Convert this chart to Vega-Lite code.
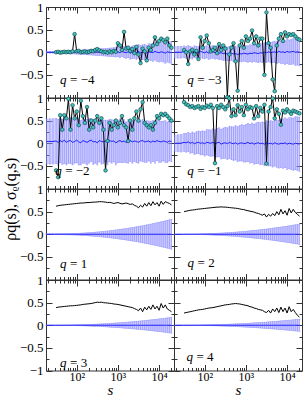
{
"$schema":"https://vega.github.io/schema/vega-lite/v6.json",
"padding":{"left":2,"top":0,"right":1,"bottom":0},
"title":{"text":"ρq(s), σᵨ(q,s)","orient":"left","anchor":"middle","font":"Liberation Serif","fontSize":16,"fontWeight":"normal","color":"black","offset":0},
"data":{"values":[
{"q":-4,"s":18.5,"m":0,"e":0.02},{"q":-4,"s":22.4,"m":0,"e":0.02},{"q":-4,"s":26.6,"m":0,"e":0.02},
{"q":-4,"s":31.6,"r":0,"m":0,"e":0.02},{"q":-4,"s":35.5,"r":0.01,"m":0,"e":0.022},{"q":-4,"s":39.8,"r":-0.01,"m":0,"e":0.024},{"q":-4,"s":44.7,"r":0,"m":0,"e":0.026},{"q":-4,"s":50.1,"r":0.01,"m":0,"e":0.028},{"q":-4,"s":56.2,"r":0,"m":0,"e":0.03},{"q":-4,"s":63.1,"r":0.01,"m":0,"e":0.032},{"q":-4,"s":70.8,"r":0,"m":0,"e":0.034},{"q":-4,"s":79.4,"r":0.02,"m":0,"e":0.037},{"q":-4,"s":89.1,"r":0.4,"m":0,"e":0.039},
{"q":-4,"s":100,"r":0.02,"m":0,"e":0.042},{"q":-4,"s":112,"r":0.03,"m":0,"e":0.044},{"q":-4,"s":126,"r":0,"m":0,"e":0.047},{"q":-4,"s":141,"r":0.01,"m":0,"e":0.05},{"q":-4,"s":158,"r":0.02,"m":0,"e":0.053},{"q":-4,"s":178,"r":0,"m":0,"e":0.055},{"q":-4,"s":200,"r":0.01,"m":0,"e":0.059},{"q":-4,"s":224,"r":0.03,"m":0,"e":0.061},{"q":-4,"s":251,"r":0.02,"m":0,"e":0.064},{"q":-4,"s":282,"r":0.05,"m":0,"e":0.068},
{"q":-4,"s":316,"r":0.07,"m":0,"e":0.071},{"q":-4,"s":355,"r":0.04,"m":0,"e":0.074},{"q":-4,"s":398,"r":0.02,"m":0,"e":0.078},{"q":-4,"s":447,"r":0,"m":0,"e":0.081},{"q":-4,"s":501,"r":0.01,"m":0,"e":0.085},{"q":-4,"s":562,"r":-0.01,"m":0,"e":0.089},{"q":-4,"s":631,"r":0.02,"m":0,"e":0.092},{"q":-4,"s":708,"r":0,"m":0,"e":0.096},{"q":-4,"s":794,"r":0.03,"m":0,"e":0.1},{"q":-4,"s":891,"r":0.01,"m":0,"e":0.104},
{"q":-4,"s":1000,"r":0.2,"m":0.01,"e":0.108},{"q":-4,"s":1122,"r":0.15,"m":-0.01,"e":0.112},{"q":-4,"s":1259,"r":0.05,"m":0.02,"e":0.116},{"q":-4,"s":1413,"r":0.45,"m":0,"e":0.121},{"q":-4,"s":1585,"r":0.08,"m":-0.01,"e":0.125},{"q":-4,"s":1778,"r":0.1,"m":0.01,"e":0.13},{"q":-4,"s":1995,"r":0.03,"m":-0.02,"e":0.134},{"q":-4,"s":2239,"r":0.07,"m":0,"e":0.139},{"q":-4,"s":2512,"r":-0.02,"m":0.01,"e":0.143},{"q":-4,"s":2818,"r":0.12,"m":-0.01,"e":0.148},
{"q":-4,"s":3162,"r":-0.05,"m":0.02,"e":0.153},{"q":-4,"s":3548,"r":-0.24,"m":-0.01,"e":0.158},{"q":-4,"s":3981,"r":0.08,"m":0,"e":0.163},{"q":-4,"s":4467,"r":0.02,"m":0.01,"e":0.168},{"q":-4,"s":5012,"r":-0.18,"m":-0.02,"e":0.173},{"q":-4,"s":5623,"r":0.1,"m":0.01,"e":0.178},{"q":-4,"s":6310,"r":0.05,"m":0,"e":0.183},{"q":-4,"s":7079,"r":0.15,"m":-0.01,"e":0.189},{"q":-4,"s":7943,"r":0.33,"m":0.02,"e":0.194},{"q":-4,"s":8913,"r":0.18,"m":0,"e":0.2},
{"q":-4,"s":10000,"r":0.25,"m":-0.01,"e":0.205},{"q":-4,"s":11220,"r":0.3,"m":0.01,"e":0.211},{"q":-4,"s":12589,"r":0.27,"m":0,"e":0.216},{"q":-4,"s":14125,"r":0.22,"m":-0.02,"e":0.222},{"q":-4,"s":15849,"r":0.3,"m":0.01,"e":0.228},{"q":-4,"s":17783,"r":0.15,"m":0,"e":0.234},{"q":-4,"s":19953,"r":0.1,"m":-0.01,"e":0.24},

{"q":-3,"s":18.5,"m":0,"e":0.13},{"q":-3,"s":22.4,"m":0,"e":0.13},{"q":-3,"s":26.6,"m":0,"e":0.13},
{"q":-3,"s":31.6,"r":0.05,"m":0.01,"e":0.13},{"q":-3,"s":35.5,"r":0,"m":-0.01,"e":0.13},{"q":-3,"s":39.8,"r":-0.26,"m":0.02,"e":0.13},{"q":-3,"s":44.7,"r":0.02,"m":0,"e":0.13},{"q":-3,"s":50.1,"r":0.05,"m":-0.02,"e":0.131},{"q":-3,"s":56.2,"r":-0.05,"m":0.01,"e":0.131},{"q":-3,"s":63.1,"r":0.03,"m":0,"e":0.132},{"q":-3,"s":70.8,"r":-0.15,"m":-0.01,"e":0.133},{"q":-3,"s":79.4,"r":0.33,"m":0.02,"e":0.133},{"q":-3,"s":89.1,"r":0.1,"m":0,"e":0.134},
{"q":-3,"s":100,"r":0.25,"m":-0.01,"e":0.135},{"q":-3,"s":112,"r":0.37,"m":0.01,"e":0.137},{"q":-3,"s":126,"r":0.2,"m":-0.02,"e":0.138},{"q":-3,"s":141,"r":0.02,"m":0,"e":0.139},{"q":-3,"s":158,"r":0.05,"m":0.01,"e":0.141},{"q":-3,"s":178,"r":0.1,"m":-0.01,"e":0.142},{"q":-3,"s":200,"r":-0.02,"m":0,"e":0.144},{"q":-3,"s":224,"r":0.18,"m":-0.02,"e":0.146},{"q":-3,"s":251,"r":0.05,"m":-0.01,"e":0.148},{"q":-3,"s":282,"r":0.15,"m":-0.03,"e":0.15},
{"q":-3,"s":316,"r":0.08,"m":-0.02,"e":0.152},{"q":-3,"s":355,"r":-0.99,"m":-0.04,"e":0.154},{"q":-3,"s":398,"r":-0.05,"m":-0.03,"e":0.156},{"q":-3,"s":447,"r":0.1,"m":-0.02,"e":0.159},{"q":-3,"s":501,"r":0.2,"m":-0.04,"e":0.161},{"q":-3,"s":562,"r":-0.2,"m":-0.03,"e":0.164},{"q":-3,"s":631,"r":-0.85,"m":-0.05,"e":0.167},{"q":-3,"s":708,"r":0.15,"m":-0.03,"e":0.17},{"q":-3,"s":794,"r":0.25,"m":-0.04,"e":0.173},{"q":-3,"s":891,"r":0.1,"m":-0.02,"e":0.176},
{"q":-3,"s":1000,"r":0.35,"m":-0.03,"e":0.179},{"q":-3,"s":1122,"r":0.25,"m":-0.04,"e":0.182},{"q":-3,"s":1259,"r":0.3,"m":-0.02,"e":0.186},{"q":-3,"s":1413,"r":0.48,"m":-0.03,"e":0.189},{"q":-3,"s":1585,"r":0.2,"m":-0.01,"e":0.193},{"q":-3,"s":1778,"r":0.35,"m":-0.02,"e":0.196},{"q":-3,"s":1995,"r":0.15,"m":-0.03,"e":0.2},{"q":-3,"s":2239,"r":0.3,"m":-0.01,"e":0.204},{"q":-3,"s":2512,"r":0.3,"m":-0.02,"e":0.208},{"q":-3,"s":2818,"r":-0.5,"m":0,"e":0.212},
{"q":-3,"s":3162,"r":0.88,"m":-0.01,"e":0.217},{"q":-3,"s":3548,"r":0.2,"m":0.01,"e":0.221},{"q":-3,"s":3981,"r":0.1,"m":-0.01,"e":0.226},{"q":-3,"s":4467,"r":-0.6,"m":0,"e":0.23},{"q":-3,"s":5012,"r":-0.86,"m":0.01,"e":0.235},{"q":-3,"s":5623,"r":0.15,"m":-0.01,"e":0.24},{"q":-3,"s":6310,"r":0.3,"m":0.02,"e":0.245},{"q":-3,"s":7079,"r":0.4,"m":0,"e":0.25},{"q":-3,"s":7943,"r":0.25,"m":0.01,"e":0.255},{"q":-3,"s":8913,"r":0.44,"m":-0.01,"e":0.26},
{"q":-3,"s":10000,"r":0.35,"m":0.02,"e":0.266},{"q":-3,"s":11220,"r":0.4,"m":0,"e":0.271},{"q":-3,"s":12589,"r":0.38,"m":0.01,"e":0.277},{"q":-3,"s":14125,"r":0.4,"m":0.02,"e":0.282},{"q":-3,"s":15849,"r":0.35,"m":0,"e":0.288},{"q":-3,"s":17783,"r":0.3,"m":0.01,"e":0.294},{"q":-3,"s":19953,"r":0.28,"m":0,"e":0.3},

{"q":-2,"s":18.5,"m":0.04,"e":0.5},{"q":-2,"s":22.4,"m":0.04,"e":0.5},{"q":-2,"s":26.6,"m":0.04,"e":0.5},
{"q":-2,"s":31.6,"r":-0.6,"m":0.05,"e":0.5},{"q":-2,"s":35.5,"r":-0.75,"m":0.02,"e":0.51},{"q":-2,"s":39.8,"r":0.62,"m":0.06,"e":0.49},{"q":-2,"s":44.7,"r":0.3,"m":0.03,"e":0.5},{"q":-2,"s":50.1,"r":0.62,"m":0.07,"e":0.52},{"q":-2,"s":56.2,"r":0.55,"m":0.02,"e":0.5},{"q":-2,"s":63.1,"r":0.98,"m":0.05,"e":0.49},{"q":-2,"s":70.8,"r":0.3,"m":0.06,"e":0.51},{"q":-2,"s":79.4,"r":0.84,"m":0.02,"e":0.5},{"q":-2,"s":89.1,"r":0.55,"m":0.04,"e":0.48},
{"q":-2,"s":100,"r":0.7,"m":0.07,"e":0.5},{"q":-2,"s":112,"r":0.4,"m":0.03,"e":0.51},{"q":-2,"s":126,"r":0.94,"m":0.01,"e":0.49},{"q":-2,"s":141,"r":0.6,"m":0.06,"e":0.5},{"q":-2,"s":158,"r":0.45,"m":0.04,"e":0.48},{"q":-2,"s":178,"r":0.8,"m":0.02,"e":0.5},{"q":-2,"s":200,"r":0.3,"m":0.05,"e":0.49},{"q":-2,"s":224,"r":0.5,"m":0.07,"e":0.47},{"q":-2,"s":251,"r":0.35,"m":0.03,"e":0.5},{"q":-2,"s":282,"r":0.5,"m":0.04,"e":0.48},
{"q":-2,"s":316,"r":0.6,"m":0.01,"e":0.49},{"q":-2,"s":355,"r":0.45,"m":0.06,"e":0.47},{"q":-2,"s":398,"r":0.55,"m":0.04,"e":0.5},{"q":-2,"s":447,"r":0.3,"m":0.03,"e":0.48},{"q":-2,"s":501,"r":-0.6,"m":0.05,"e":0.46},{"q":-2,"s":562,"r":0.05,"m":0.02,"e":0.49},{"q":-2,"s":631,"r":0.45,"m":0.06,"e":0.47},{"q":-2,"s":708,"r":0.3,"m":0.04,"e":0.48},{"q":-2,"s":794,"r":0.4,"m":0.05,"e":0.46},{"q":-2,"s":891,"r":0.5,"m":0.01,"e":0.49},
{"q":-2,"s":1000,"r":0.35,"m":0.04,"e":0.47},{"q":-2,"s":1122,"r":0.45,"m":0.06,"e":0.48},{"q":-2,"s":1259,"r":0.6,"m":0.03,"e":0.46},{"q":-2,"s":1413,"r":0.4,"m":0.05,"e":0.47},{"q":-2,"s":1585,"r":0.35,"m":0.02,"e":0.45},{"q":-2,"s":1778,"r":0.05,"m":0.04,"e":0.48},{"q":-2,"s":1995,"r":0.5,"m":0.06,"e":0.46},{"q":-2,"s":2239,"r":0.3,"m":0.03,"e":0.47},{"q":-2,"s":2512,"r":0.55,"m":0.05,"e":0.45},{"q":-2,"s":2818,"r":0.7,"m":0.04,"e":0.47},
{"q":-2,"s":3162,"r":0.5,"m":0.02,"e":0.46},{"q":-2,"s":3548,"r":0.75,"m":0.05,"e":0.44},{"q":-2,"s":3981,"r":0.91,"m":0.06,"e":0.47},{"q":-2,"s":4467,"r":0.45,"m":0.03,"e":0.45},{"q":-2,"s":5012,"r":0.4,"m":0.04,"e":0.46},{"q":-2,"s":5623,"r":0.35,"m":0.05,"e":0.44},{"q":-2,"s":6310,"r":0.4,"m":0.02,"e":0.46},{"q":-2,"s":7079,"r":0.3,"m":0.05,"e":0.45},{"q":-2,"s":7943,"r":0.45,"m":0.03,"e":0.47},{"q":-2,"s":8913,"r":0.6,"m":0.06,"e":0.44},
{"q":-2,"s":10000,"r":0.55,"m":0.04,"e":0.46},{"q":-2,"s":11220,"r":0.65,"m":0.03,"e":0.45},{"q":-2,"s":12589,"r":0.62,"m":0.05,"e":0.44},{"q":-2,"s":14125,"r":0.65,"m":0.04,"e":0.46},{"q":-2,"s":15849,"r":0.6,"m":0.02,"e":0.45},{"q":-2,"s":17783,"r":0.55,"m":0.05,"e":0.44},{"q":-2,"s":19953,"r":0.5,"m":0.04,"e":0.45},

{"q":-1,"s":18.5,"m":0,"e":0.18},{"q":-1,"s":22.4,"m":0,"e":0.19},{"q":-1,"s":26.6,"m":0,"e":0.195},
{"q":-1,"s":31.6,"r":0.91,"m":0.02,"e":0.2},{"q":-1,"s":35.5,"r":0.86,"m":0.01,"e":0.207},{"q":-1,"s":39.8,"r":0.84,"m":0.03,"e":0.214},{"q":-1,"s":44.7,"r":0.8,"m":0,"e":0.221},{"q":-1,"s":50.1,"r":0.82,"m":0.02,"e":0.229},{"q":-1,"s":56.2,"r":0.78,"m":-0.01,"e":0.236},{"q":-1,"s":63.1,"r":0.8,"m":0.01,"e":0.243},{"q":-1,"s":70.8,"r":0.82,"m":0.02,"e":0.25},{"q":-1,"s":79.4,"r":0.76,"m":0,"e":0.257},{"q":-1,"s":89.1,"r":0.8,"m":0.01,"e":0.264},
{"q":-1,"s":100,"r":0.78,"m":-0.01,"e":0.271},{"q":-1,"s":112,"r":0.83,"m":0.02,"e":0.279},{"q":-1,"s":126,"r":0.8,"m":0.01,"e":0.286},{"q":-1,"s":141,"r":0.85,"m":0,"e":0.293},{"q":-1,"s":158,"r":0.78,"m":0.02,"e":0.3},{"q":-1,"s":178,"r":-0.44,"m":-0.01,"e":0.307},{"q":-1,"s":200,"r":0.82,"m":0.01,"e":0.314},{"q":-1,"s":224,"r":0.78,"m":0.02,"e":0.321},{"q":-1,"s":251,"r":0.85,"m":-0.02,"e":0.329},{"q":-1,"s":282,"r":0.8,"m":0,"e":0.336},
{"q":-1,"s":316,"r":0.75,"m":0.01,"e":0.343},{"q":-1,"s":355,"r":0.82,"m":-0.01,"e":0.35},{"q":-1,"s":398,"r":0.99,"m":0.02,"e":0.357},{"q":-1,"s":447,"r":0.6,"m":0,"e":0.364},{"q":-1,"s":501,"r":0.75,"m":-0.01,"e":0.371},{"q":-1,"s":562,"r":0.62,"m":0.01,"e":0.379},{"q":-1,"s":631,"r":0.84,"m":-0.02,"e":0.386},{"q":-1,"s":708,"r":0.7,"m":0,"e":0.393},{"q":-1,"s":794,"r":0.8,"m":0.01,"e":0.4},{"q":-1,"s":891,"r":0.62,"m":-0.01,"e":0.407},
{"q":-1,"s":1000,"r":0.85,"m":0,"e":0.414},{"q":-1,"s":1122,"r":0.75,"m":0.02,"e":0.421},{"q":-1,"s":1259,"r":0.8,"m":-0.01,"e":0.429},{"q":-1,"s":1413,"r":0.78,"m":0.01,"e":0.436},{"q":-1,"s":1585,"r":0.55,"m":-0.02,"e":0.443},{"q":-1,"s":1778,"r":0.82,"m":0,"e":0.45},{"q":-1,"s":1995,"r":0.6,"m":0.01,"e":0.457},{"q":-1,"s":2239,"r":0.78,"m":-0.01,"e":0.464},{"q":-1,"s":2512,"r":0.7,"m":0,"e":0.471},{"q":-1,"s":2818,"r":0.85,"m":-0.02,"e":0.479},
{"q":-1,"s":3162,"r":-0.45,"m":0.01,"e":0.486},{"q":-1,"s":3548,"r":0.7,"m":-0.01,"e":0.493},{"q":-1,"s":3981,"r":0.8,"m":0,"e":0.5},{"q":-1,"s":4467,"r":0.99,"m":-0.02,"e":0.507},{"q":-1,"s":5012,"r":0.55,"m":0.01,"e":0.514},{"q":-1,"s":5623,"r":0.75,"m":-0.01,"e":0.521},{"q":-1,"s":6310,"r":0.65,"m":-0.02,"e":0.529},{"q":-1,"s":7079,"r":0.41,"m":0,"e":0.536},{"q":-1,"s":7943,"r":0.72,"m":-0.01,"e":0.543},{"q":-1,"s":8913,"r":0.68,"m":0.01,"e":0.55},
{"q":-1,"s":10000,"r":0.75,"m":-0.02,"e":0.557},{"q":-1,"s":11220,"r":0.7,"m":0,"e":0.564},{"q":-1,"s":12589,"r":0.65,"m":-0.01,"e":0.571},{"q":-1,"s":14125,"r":0.72,"m":-0.02,"e":0.579},{"q":-1,"s":15849,"r":0.7,"m":0,"e":0.586},{"q":-1,"s":17783,"r":0.68,"m":-0.01,"e":0.593},{"q":-1,"s":19953,"r":0.66,"m":-0.02,"e":0.6},

{"q":1,"s":18.5,"m":0,"e":0.01},{"q":1,"s":22.4,"m":0,"e":0.01},{"q":1,"s":26.6,"m":0,"e":0.01},
{"q":1,"s":31.6,"r":0.62,"m":0,"e":0.01},{"q":1,"s":35.5,"r":0.63,"m":0,"e":0.01},{"q":1,"s":39.8,"r":0.64,"m":0,"e":0.01},{"q":1,"s":44.7,"r":0.645,"m":0,"e":0.011},{"q":1,"s":50.1,"r":0.65,"m":0,"e":0.012},{"q":1,"s":56.2,"r":0.655,"m":0,"e":0.013},{"q":1,"s":63.1,"r":0.66,"m":0,"e":0.014},{"q":1,"s":70.8,"r":0.665,"m":0,"e":0.015},{"q":1,"s":79.4,"r":0.67,"m":0,"e":0.017},{"q":1,"s":89.1,"r":0.675,"m":0,"e":0.018},
{"q":1,"s":100,"r":0.68,"m":0,"e":0.02},{"q":1,"s":112,"r":0.685,"m":0,"e":0.022},{"q":1,"s":126,"r":0.69,"m":0,"e":0.025},{"q":1,"s":141,"r":0.69,"m":0,"e":0.027},{"q":1,"s":158,"r":0.695,"m":0,"e":0.03},{"q":1,"s":178,"r":0.7,"m":0,"e":0.033},{"q":1,"s":200,"r":0.7,"m":0,"e":0.036},{"q":1,"s":224,"r":0.705,"m":0,"e":0.04},{"q":1,"s":251,"r":0.71,"m":0,"e":0.043},{"q":1,"s":282,"r":0.71,"m":0,"e":0.047},
{"q":1,"s":316,"r":0.715,"m":0,"e":0.051},{"q":1,"s":355,"r":0.72,"m":0,"e":0.055},{"q":1,"s":398,"r":0.72,"m":0,"e":0.059},{"q":1,"s":447,"r":0.715,"m":0,"e":0.064},{"q":1,"s":501,"r":0.71,"m":0,"e":0.069},{"q":1,"s":562,"r":0.7,"m":0,"e":0.074},{"q":1,"s":631,"r":0.705,"m":0,"e":0.079},{"q":1,"s":708,"r":0.695,"m":0,"e":0.084},{"q":1,"s":794,"r":0.68,"m":0,"e":0.09},{"q":1,"s":891,"r":0.69,"m":0,"e":0.096},
{"q":1,"s":1000,"r":0.7,"m":0,"e":0.102},{"q":1,"s":1122,"r":0.685,"m":0,"e":0.108},{"q":1,"s":1259,"r":0.67,"m":0,"e":0.114},{"q":1,"s":1413,"r":0.68,"m":0,"e":0.121},{"q":1,"s":1585,"r":0.69,"m":0,"e":0.128},{"q":1,"s":1778,"r":0.675,"m":0,"e":0.135},{"q":1,"s":1995,"r":0.66,"m":0,"e":0.142},{"q":1,"s":2239,"r":0.67,"m":0,"e":0.15},{"q":1,"s":2512,"r":0.64,"m":0,"e":0.157},{"q":1,"s":2818,"r":0.62,"m":0,"e":0.165},
{"q":1,"s":3162,"r":0.585,"m":0,"e":0.173},{"q":1,"s":3548,"r":0.64,"m":0,"e":0.182},{"q":1,"s":3981,"r":0.6,"m":0,"e":0.19},{"q":1,"s":4467,"r":0.68,"m":0,"e":0.199},{"q":1,"s":5012,"r":0.62,"m":0,"e":0.208},{"q":1,"s":5623,"r":0.7,"m":0,"e":0.217},{"q":1,"s":6310,"r":0.63,"m":0,"e":0.226},{"q":1,"s":7079,"r":0.72,"m":0,"e":0.235},{"q":1,"s":7943,"r":0.65,"m":0,"e":0.245},{"q":1,"s":8913,"r":0.7,"m":0,"e":0.255},
{"q":1,"s":10000,"r":0.62,"m":0,"e":0.265},{"q":1,"s":11220,"r":0.73,"m":0,"e":0.275},{"q":1,"s":12589,"r":0.66,"m":0,"e":0.286},{"q":1,"s":14125,"r":0.72,"m":0,"e":0.297},{"q":1,"s":15849,"r":0.7,"m":0,"e":0.308},{"q":1,"s":17783,"r":0.68,"m":0,"e":0.319},{"q":1,"s":19953,"r":0.65,"m":0,"e":0.33},

{"q":2,"s":18.5,"m":0,"e":0.005},{"q":2,"s":22.4,"m":0,"e":0.005},{"q":2,"s":26.6,"m":0,"e":0.005},
{"q":2,"s":31.6,"r":0.5,"m":0,"e":0.005},{"q":2,"s":35.5,"r":0.51,"m":0,"e":0.005},{"q":2,"s":39.8,"r":0.52,"m":0,"e":0.005},{"q":2,"s":44.7,"r":0.53,"m":0,"e":0.006},{"q":2,"s":50.1,"r":0.535,"m":0,"e":0.006},{"q":2,"s":56.2,"r":0.54,"m":0,"e":0.007},{"q":2,"s":63.1,"r":0.55,"m":0,"e":0.008},{"q":2,"s":70.8,"r":0.555,"m":0,"e":0.008},{"q":2,"s":79.4,"r":0.56,"m":0,"e":0.009},{"q":2,"s":89.1,"r":0.565,"m":0,"e":0.011},
{"q":2,"s":100,"r":0.57,"m":0,"e":0.012},{"q":2,"s":112,"r":0.575,"m":0,"e":0.013},{"q":2,"s":126,"r":0.58,"m":0,"e":0.015},{"q":2,"s":141,"r":0.585,"m":0,"e":0.017},{"q":2,"s":158,"r":0.59,"m":0,"e":0.019},{"q":2,"s":178,"r":0.595,"m":0,"e":0.021},{"q":2,"s":200,"r":0.6,"m":0,"e":0.023},{"q":2,"s":224,"r":0.6,"m":0,"e":0.025},{"q":2,"s":251,"r":0.605,"m":0,"e":0.028},{"q":2,"s":282,"r":0.6,"m":0,"e":0.03},
{"q":2,"s":316,"r":0.6,"m":0,"e":0.033},{"q":2,"s":355,"r":0.595,"m":0,"e":0.036},{"q":2,"s":398,"r":0.59,"m":0,"e":0.039},{"q":2,"s":447,"r":0.585,"m":0,"e":0.042},{"q":2,"s":501,"r":0.58,"m":0,"e":0.045},{"q":2,"s":562,"r":0.575,"m":0,"e":0.049},{"q":2,"s":631,"r":0.57,"m":0,"e":0.052},{"q":2,"s":708,"r":0.56,"m":0,"e":0.056},{"q":2,"s":794,"r":0.55,"m":0,"e":0.06},{"q":2,"s":891,"r":0.545,"m":0,"e":0.064},
{"q":2,"s":1000,"r":0.53,"m":0,"e":0.068},{"q":2,"s":1122,"r":0.52,"m":0,"e":0.072},{"q":2,"s":1259,"r":0.51,"m":0,"e":0.077},{"q":2,"s":1413,"r":0.5,"m":0,"e":0.081},{"q":2,"s":1585,"r":0.49,"m":0,"e":0.086},{"q":2,"s":1778,"r":0.47,"m":0,"e":0.091},{"q":2,"s":1995,"r":0.46,"m":0,"e":0.096},{"q":2,"s":2239,"r":0.44,"m":0,"e":0.101},{"q":2,"s":2512,"r":0.42,"m":0,"e":0.106},{"q":2,"s":2818,"r":0.45,"m":0,"e":0.112},
{"q":2,"s":3162,"r":0.38,"m":0,"e":0.117},{"q":2,"s":3548,"r":0.44,"m":0,"e":0.123},{"q":2,"s":3981,"r":0.4,"m":0,"e":0.129},{"q":2,"s":4467,"r":0.46,"m":0,"e":0.135},{"q":2,"s":5012,"r":0.41,"m":0,"e":0.141},{"q":2,"s":5623,"r":0.5,"m":0,"e":0.147},{"q":2,"s":6310,"r":0.43,"m":0,"e":0.153},{"q":2,"s":7079,"r":0.55,"m":0,"e":0.16},{"q":2,"s":7943,"r":0.45,"m":0,"e":0.167},{"q":2,"s":8913,"r":0.52,"m":0,"e":0.173},
{"q":2,"s":10000,"r":0.42,"m":0,"e":0.18},{"q":2,"s":11220,"r":0.57,"m":0,"e":0.187},{"q":2,"s":12589,"r":0.47,"m":0,"e":0.195},{"q":2,"s":14125,"r":0.55,"m":0,"e":0.202},{"q":2,"s":15849,"r":0.48,"m":0,"e":0.21},{"q":2,"s":17783,"r":0.44,"m":0,"e":0.217},{"q":2,"s":19953,"r":0.4,"m":0,"e":0.225},

{"q":3,"s":18.5,"m":0,"e":0.005},{"q":3,"s":22.4,"m":0,"e":0.005},{"q":3,"s":26.6,"m":0,"e":0.005},
{"q":3,"s":31.6,"r":0.39,"m":0,"e":0.005},{"q":3,"s":35.5,"r":0.4,"m":0,"e":0.005},{"q":3,"s":39.8,"r":0.405,"m":0,"e":0.005},{"q":3,"s":44.7,"r":0.41,"m":0,"e":0.005},{"q":3,"s":50.1,"r":0.415,"m":0,"e":0.006},{"q":3,"s":56.2,"r":0.42,"m":0,"e":0.006},{"q":3,"s":63.1,"r":0.425,"m":0,"e":0.007},{"q":3,"s":70.8,"r":0.43,"m":0,"e":0.008},{"q":3,"s":79.4,"r":0.43,"m":0,"e":0.008},{"q":3,"s":89.1,"r":0.435,"m":0,"e":0.009},
{"q":3,"s":100,"r":0.44,"m":0,"e":0.01},{"q":3,"s":112,"r":0.445,"m":0,"e":0.012},{"q":3,"s":126,"r":0.45,"m":0,"e":0.013},{"q":3,"s":141,"r":0.46,"m":0,"e":0.014},{"q":3,"s":158,"r":0.465,"m":0,"e":0.016},{"q":3,"s":178,"r":0.47,"m":0,"e":0.017},{"q":3,"s":200,"r":0.475,"m":0,"e":0.019},{"q":3,"s":224,"r":0.48,"m":0,"e":0.021},{"q":3,"s":251,"r":0.49,"m":0,"e":0.023},{"q":3,"s":282,"r":0.5,"m":0,"e":0.025},
{"q":3,"s":316,"r":0.51,"m":0,"e":0.027},{"q":3,"s":355,"r":0.505,"m":0,"e":0.029},{"q":3,"s":398,"r":0.51,"m":0,"e":0.031},{"q":3,"s":447,"r":0.5,"m":0,"e":0.034},{"q":3,"s":501,"r":0.495,"m":0,"e":0.036},{"q":3,"s":562,"r":0.49,"m":0,"e":0.039},{"q":3,"s":631,"r":0.485,"m":0,"e":0.042},{"q":3,"s":708,"r":0.48,"m":0,"e":0.045},{"q":3,"s":794,"r":0.47,"m":0,"e":0.048},{"q":3,"s":891,"r":0.465,"m":0,"e":0.051},
{"q":3,"s":1000,"r":0.46,"m":0,"e":0.054},{"q":3,"s":1122,"r":0.45,"m":0,"e":0.057},{"q":3,"s":1259,"r":0.44,"m":0,"e":0.061},{"q":3,"s":1413,"r":0.43,"m":0,"e":0.064},{"q":3,"s":1585,"r":0.42,"m":0,"e":0.068},{"q":3,"s":1778,"r":0.41,"m":0,"e":0.071},{"q":3,"s":1995,"r":0.4,"m":0,"e":0.075},{"q":3,"s":2239,"r":0.39,"m":0,"e":0.079},{"q":3,"s":2512,"r":0.37,"m":0,"e":0.083},{"q":3,"s":2818,"r":0.35,"m":0,"e":0.087},
{"q":3,"s":3162,"r":0.32,"m":0,"e":0.092},{"q":3,"s":3548,"r":0.38,"m":0,"e":0.096},{"q":3,"s":3981,"r":0.3,"m":0,"e":0.101},{"q":3,"s":4467,"r":0.4,"m":0,"e":0.105},{"q":3,"s":5012,"r":0.34,"m":0,"e":0.11},{"q":3,"s":5623,"r":0.42,"m":0,"e":0.115},{"q":3,"s":6310,"r":0.35,"m":0,"e":0.12},{"q":3,"s":7079,"r":0.45,"m":0,"e":0.125},{"q":3,"s":7943,"r":0.36,"m":0,"e":0.13},{"q":3,"s":8913,"r":0.42,"m":0,"e":0.135},
{"q":3,"s":10000,"r":0.33,"m":0,"e":0.141},{"q":3,"s":11220,"r":0.48,"m":0,"e":0.146},{"q":3,"s":12589,"r":0.38,"m":0,"e":0.152},{"q":3,"s":14125,"r":0.45,"m":0,"e":0.157},{"q":3,"s":15849,"r":0.36,"m":0,"e":0.163},{"q":3,"s":17783,"r":0.33,"m":0,"e":0.169},{"q":3,"s":19953,"r":0.3,"m":0,"e":0.175},

{"q":4,"s":18.5,"m":0,"e":0.005},{"q":4,"s":22.4,"m":0,"e":0.005},{"q":4,"s":26.6,"m":0,"e":0.005},
{"q":4,"s":31.6,"r":0.27,"m":0,"e":0.005},{"q":4,"s":35.5,"r":0.28,"m":0,"e":0.005},{"q":4,"s":39.8,"r":0.29,"m":0,"e":0.005},{"q":4,"s":44.7,"r":0.3,"m":0,"e":0.005},{"q":4,"s":50.1,"r":0.31,"m":0,"e":0.006},{"q":4,"s":56.2,"r":0.32,"m":0,"e":0.006},{"q":4,"s":63.1,"r":0.33,"m":0,"e":0.006},{"q":4,"s":70.8,"r":0.34,"m":0,"e":0.007},{"q":4,"s":79.4,"r":0.345,"m":0,"e":0.008},{"q":4,"s":89.1,"r":0.35,"m":0,"e":0.008},
{"q":4,"s":100,"r":0.36,"m":0,"e":0.009},{"q":4,"s":112,"r":0.37,"m":0,"e":0.01},{"q":4,"s":126,"r":0.38,"m":0,"e":0.011},{"q":4,"s":141,"r":0.385,"m":0,"e":0.012},{"q":4,"s":158,"r":0.39,"m":0,"e":0.013},{"q":4,"s":178,"r":0.4,"m":0,"e":0.014},{"q":4,"s":200,"r":0.41,"m":0,"e":0.016},{"q":4,"s":224,"r":0.42,"m":0,"e":0.017},{"q":4,"s":251,"r":0.43,"m":0,"e":0.018},{"q":4,"s":282,"r":0.44,"m":0,"e":0.02},
{"q":4,"s":316,"r":0.45,"m":0,"e":0.022},{"q":4,"s":355,"r":0.455,"m":0,"e":0.023},{"q":4,"s":398,"r":0.46,"m":0,"e":0.025},{"q":4,"s":447,"r":0.47,"m":0,"e":0.027},{"q":4,"s":501,"r":0.475,"m":0,"e":0.029},{"q":4,"s":562,"r":0.48,"m":0,"e":0.031},{"q":4,"s":631,"r":0.475,"m":0,"e":0.033},{"q":4,"s":708,"r":0.47,"m":0,"e":0.035},{"q":4,"s":794,"r":0.46,"m":0,"e":0.038},{"q":4,"s":891,"r":0.45,"m":0,"e":0.04},
{"q":4,"s":1000,"r":0.44,"m":0,"e":0.042},{"q":4,"s":1122,"r":0.43,"m":0,"e":0.045},{"q":4,"s":1259,"r":0.41,"m":0,"e":0.047},{"q":4,"s":1413,"r":0.4,"m":0,"e":0.05},{"q":4,"s":1585,"r":0.38,"m":0,"e":0.053},{"q":4,"s":1778,"r":0.37,"m":0,"e":0.056},{"q":4,"s":1995,"r":0.35,"m":0,"e":0.059},{"q":4,"s":2239,"r":0.34,"m":0,"e":0.062},{"q":4,"s":2512,"r":0.33,"m":0,"e":0.065},{"q":4,"s":2818,"r":0.3,"m":0,"e":0.068},
{"q":4,"s":3162,"r":0.28,"m":0,"e":0.071},{"q":4,"s":3548,"r":0.33,"m":0,"e":0.075},{"q":4,"s":3981,"r":0.27,"m":0,"e":0.078},{"q":4,"s":4467,"r":0.36,"m":0,"e":0.082},{"q":4,"s":5012,"r":0.3,"m":0,"e":0.085},{"q":4,"s":5623,"r":0.38,"m":0,"e":0.089},{"q":4,"s":6310,"r":0.28,"m":0,"e":0.093},{"q":4,"s":7079,"r":0.4,"m":0,"e":0.097},{"q":4,"s":7943,"r":0.3,"m":0,"e":0.101},{"q":4,"s":8913,"r":0.38,"m":0,"e":0.105},
{"q":4,"s":10000,"r":0.27,"m":0,"e":0.109},{"q":4,"s":11220,"r":0.41,"m":0,"e":0.113},{"q":4,"s":12589,"r":0.3,"m":0,"e":0.117},{"q":4,"s":14125,"r":0.35,"m":0,"e":0.121},{"q":4,"s":15849,"r":0.28,"m":0,"e":0.126},{"q":4,"s":17783,"r":0.22,"m":0,"e":0.13},{"q":4,"s":19953,"r":0.18,"m":0,"e":0.135}
]},
"columns":2,
"spacing":0,
"bounds":"flush",
"concat":[
{"width":128,"height":90.5,"transform":[{"filter":"datum.q==-4"}],"layer":[
{"mark":{"type":"errorband","color":"#9a9aff","opacity":0.45},"encoding":{"x":{"field":"s","type":"quantitative","scale":{"type":"log","domain":[18,23000],"nice":false},"axis":null},"y":{"field":"m","type":"quantitative","scale":{"domain":[-1,1],"nice":false},"axis":null},"yError":{"field":"e"}}},
{"mark":{"type":"errorbar","color":"#8080ff","thickness":0.6,"ticks":{"size":2}},"encoding":{"x":{"field":"s","type":"quantitative","axis":null},"y":{"field":"m","type":"quantitative","axis":null},"yError":{"field":"e"}}},
{"mark":{"type":"line","color":"#2020ff","strokeWidth":1},"encoding":{"x":{"field":"s","type":"quantitative","axis":{"orient":"top","values":[20,30,40,50,60,70,80,90,100,200,300,400,500,600,700,800,900,1000,2000,3000,4000,5000,6000,7000,8000,9000,10000,20000],"tickSize":{"condition":{"test":"datum.value==100||datum.value==1000||datum.value==10000","value":-6},"value":-3},"labels":false,"title":null}},"y":{"field":"m","type":"quantitative","axis":{"orient":"right","values":[-1,-0.75,-0.5,-0.25,0,0.25,0.5,0.75,1],"tickSize":{"condition":{"test":"abs(datum.value)==1||abs(datum.value)==0.5||datum.value==0","value":-6},"value":-3},"labels":false,"title":null}}}},
{"mark":{"type":"line","color":"black","strokeWidth":1},"encoding":{"x":{"field":"s","type":"quantitative","axis":{"orient":"bottom","values":[20,30,40,50,60,70,80,90,100,200,300,400,500,600,700,800,900,1000,2000,3000,4000,5000,6000,7000,8000,9000,10000,20000],"tickSize":{"condition":{"test":"datum.value==100||datum.value==1000||datum.value==10000","value":-6},"value":-3},"labels":false,"title":null}},"y":{"field":"r","type":"quantitative","axis":{"orient":"left","values":[-1,-0.75,-0.5,-0.25,0,0.25,0.5,0.75,1],"tickSize":{"condition":{"test":"abs(datum.value)==1||abs(datum.value)==0.5||datum.value==0","value":-6},"value":-3},"labelExpr":"datum.value==1?'1':datum.value==0.5?'0.5':datum.value==0?'0':datum.value==-0.5?'−0.5':''","labelOverlap":false,"labelPadding":9,"title":null}}}},
{"mark":{"type":"point","filled":true,"fill":"#3ec3c0","stroke":"#0d3b3b","strokeWidth":0.6,"size":13,"opacity":1},"encoding":{"x":{"field":"s","type":"quantitative","axis":null},"y":{"field":"r","type":"quantitative","axis":null}}},
{"data":{"values":[{"q":-4,"a":"q","b":"= −4"}]},"mark":{"type":"text","font":"Liberation Serif","fontSize":13,"fontStyle":"italic","align":"left","baseline":"alphabetic","color":"black"},"encoding":{"x":{"datum":39.6,"type":"quantitative","axis":null},"y":{"datum":-0.7,"type":"quantitative","axis":null},"text":{"field":"a"}}},
{"data":{"values":[{"q":-4,"a":"q","b":"= −4"}]},"mark":{"type":"text","font":"Liberation Serif","fontSize":13,"align":"left","baseline":"alphabetic","color":"black","dx":10},"encoding":{"x":{"datum":39.6,"type":"quantitative","axis":null},"y":{"datum":-0.7,"type":"quantitative","axis":null},"text":{"field":"b"}}}
]},
{"width":128,"height":90.5,"transform":[{"filter":"datum.q==-3"}],"layer":[
{"mark":{"type":"errorband","color":"#9a9aff","opacity":0.45},"encoding":{"x":{"field":"s","type":"quantitative","scale":{"type":"log","domain":[18,23000],"nice":false},"axis":null},"y":{"field":"m","type":"quantitative","scale":{"domain":[-1,1],"nice":false},"axis":null},"yError":{"field":"e"}}},
{"mark":{"type":"errorbar","color":"#8080ff","thickness":0.6,"ticks":{"size":2}},"encoding":{"x":{"field":"s","type":"quantitative","axis":null},"y":{"field":"m","type":"quantitative","axis":null},"yError":{"field":"e"}}},
{"mark":{"type":"line","color":"#2020ff","strokeWidth":1},"encoding":{"x":{"field":"s","type":"quantitative","axis":{"orient":"top","values":[20,30,40,50,60,70,80,90,100,200,300,400,500,600,700,800,900,1000,2000,3000,4000,5000,6000,7000,8000,9000,10000,20000],"tickSize":{"condition":{"test":"datum.value==100||datum.value==1000||datum.value==10000","value":-6},"value":-3},"labels":false,"title":null}},"y":{"field":"m","type":"quantitative","axis":{"orient":"right","values":[-1,-0.75,-0.5,-0.25,0,0.25,0.5,0.75,1],"tickSize":{"condition":{"test":"abs(datum.value)==1||abs(datum.value)==0.5||datum.value==0","value":-6},"value":-3},"labels":false,"title":null}}}},
{"mark":{"type":"line","color":"black","strokeWidth":1},"encoding":{"x":{"field":"s","type":"quantitative","axis":{"orient":"bottom","values":[20,30,40,50,60,70,80,90,100,200,300,400,500,600,700,800,900,1000,2000,3000,4000,5000,6000,7000,8000,9000,10000,20000],"tickSize":{"condition":{"test":"datum.value==100||datum.value==1000||datum.value==10000","value":-6},"value":-3},"labels":false,"title":null}},"y":{"field":"r","type":"quantitative","axis":{"orient":"left","values":[-1,-0.75,-0.5,-0.25,0,0.25,0.5,0.75,1],"tickSize":{"condition":{"test":"abs(datum.value)==1||abs(datum.value)==0.5||datum.value==0","value":-6},"value":-3},"labels":false,"title":null}}}},
{"mark":{"type":"point","filled":true,"fill":"#3ec3c0","stroke":"#0d3b3b","strokeWidth":0.6,"size":13,"opacity":1},"encoding":{"x":{"field":"s","type":"quantitative","axis":null},"y":{"field":"r","type":"quantitative","axis":null}}},
{"data":{"values":[{"q":-3,"a":"q","b":"= −3"}]},"mark":{"type":"text","font":"Liberation Serif","fontSize":13,"fontStyle":"italic","align":"left","baseline":"alphabetic","color":"black"},"encoding":{"x":{"datum":37.6,"type":"quantitative","axis":null},"y":{"datum":-0.7,"type":"quantitative","axis":null},"text":{"field":"a"}}},
{"data":{"values":[{"q":-3,"a":"q","b":"= −3"}]},"mark":{"type":"text","font":"Liberation Serif","fontSize":13,"align":"left","baseline":"alphabetic","color":"black","dx":10},"encoding":{"x":{"datum":37.6,"type":"quantitative","axis":null},"y":{"datum":-0.7,"type":"quantitative","axis":null},"text":{"field":"b"}}}
]},
{"width":128,"height":90.5,"transform":[{"filter":"datum.q==-2"}],"layer":[
{"mark":{"type":"errorband","color":"#9a9aff","opacity":0.45},"encoding":{"x":{"field":"s","type":"quantitative","scale":{"type":"log","domain":[18,23000],"nice":false},"axis":null},"y":{"field":"m","type":"quantitative","scale":{"domain":[-1,1],"nice":false},"axis":null},"yError":{"field":"e"}}},
{"mark":{"type":"errorbar","color":"#8080ff","thickness":0.6,"ticks":{"size":2}},"encoding":{"x":{"field":"s","type":"quantitative","axis":null},"y":{"field":"m","type":"quantitative","axis":null},"yError":{"field":"e"}}},
{"mark":{"type":"line","color":"#2020ff","strokeWidth":1},"encoding":{"x":{"field":"s","type":"quantitative","axis":{"orient":"top","values":[20,30,40,50,60,70,80,90,100,200,300,400,500,600,700,800,900,1000,2000,3000,4000,5000,6000,7000,8000,9000,10000,20000],"tickSize":{"condition":{"test":"datum.value==100||datum.value==1000||datum.value==10000","value":-6},"value":-3},"labels":false,"title":null}},"y":{"field":"m","type":"quantitative","axis":{"orient":"right","values":[-1,-0.75,-0.5,-0.25,0,0.25,0.5,0.75,1],"tickSize":{"condition":{"test":"abs(datum.value)==1||abs(datum.value)==0.5||datum.value==0","value":-6},"value":-3},"labels":false,"title":null}}}},
{"mark":{"type":"line","color":"black","strokeWidth":1},"encoding":{"x":{"field":"s","type":"quantitative","axis":{"orient":"bottom","values":[20,30,40,50,60,70,80,90,100,200,300,400,500,600,700,800,900,1000,2000,3000,4000,5000,6000,7000,8000,9000,10000,20000],"tickSize":{"condition":{"test":"datum.value==100||datum.value==1000||datum.value==10000","value":-6},"value":-3},"labels":false,"title":null}},"y":{"field":"r","type":"quantitative","axis":{"orient":"left","values":[-1,-0.75,-0.5,-0.25,0,0.25,0.5,0.75,1],"tickSize":{"condition":{"test":"abs(datum.value)==1||abs(datum.value)==0.5||datum.value==0","value":-6},"value":-3},"labelExpr":"datum.value==1?'1':datum.value==0.5?'0.5':datum.value==0?'0':datum.value==-0.5?'−0.5':''","labelOverlap":false,"labelPadding":9,"title":null}}}},
{"mark":{"type":"point","filled":true,"fill":"#3ec3c0","stroke":"#0d3b3b","strokeWidth":0.6,"size":13,"opacity":1},"encoding":{"x":{"field":"s","type":"quantitative","axis":null},"y":{"field":"r","type":"quantitative","axis":null}}},
{"data":{"values":[{"q":-2,"a":"q","b":"= −2"}]},"mark":{"type":"text","font":"Liberation Serif","fontSize":13,"fontStyle":"italic","align":"left","baseline":"alphabetic","color":"black"},"encoding":{"x":{"datum":30,"type":"quantitative","axis":null},"y":{"datum":-0.71,"type":"quantitative","axis":null},"text":{"field":"a"}}},
{"data":{"values":[{"q":-2,"a":"q","b":"= −2"}]},"mark":{"type":"text","font":"Liberation Serif","fontSize":13,"align":"left","baseline":"alphabetic","color":"black","dx":10},"encoding":{"x":{"datum":30,"type":"quantitative","axis":null},"y":{"datum":-0.71,"type":"quantitative","axis":null},"text":{"field":"b"}}}
]},
{"width":128,"height":90.5,"transform":[{"filter":"datum.q==-1"}],"layer":[
{"mark":{"type":"errorband","color":"#9a9aff","opacity":0.45},"encoding":{"x":{"field":"s","type":"quantitative","scale":{"type":"log","domain":[18,23000],"nice":false},"axis":null},"y":{"field":"m","type":"quantitative","scale":{"domain":[-1,1],"nice":false},"axis":null},"yError":{"field":"e"}}},
{"mark":{"type":"errorbar","color":"#8080ff","thickness":0.6,"ticks":{"size":2}},"encoding":{"x":{"field":"s","type":"quantitative","axis":null},"y":{"field":"m","type":"quantitative","axis":null},"yError":{"field":"e"}}},
{"mark":{"type":"line","color":"#2020ff","strokeWidth":1},"encoding":{"x":{"field":"s","type":"quantitative","axis":{"orient":"top","values":[20,30,40,50,60,70,80,90,100,200,300,400,500,600,700,800,900,1000,2000,3000,4000,5000,6000,7000,8000,9000,10000,20000],"tickSize":{"condition":{"test":"datum.value==100||datum.value==1000||datum.value==10000","value":-6},"value":-3},"labels":false,"title":null}},"y":{"field":"m","type":"quantitative","axis":{"orient":"right","values":[-1,-0.75,-0.5,-0.25,0,0.25,0.5,0.75,1],"tickSize":{"condition":{"test":"abs(datum.value)==1||abs(datum.value)==0.5||datum.value==0","value":-6},"value":-3},"labels":false,"title":null}}}},
{"mark":{"type":"line","color":"black","strokeWidth":1},"encoding":{"x":{"field":"s","type":"quantitative","axis":{"orient":"bottom","values":[20,30,40,50,60,70,80,90,100,200,300,400,500,600,700,800,900,1000,2000,3000,4000,5000,6000,7000,8000,9000,10000,20000],"tickSize":{"condition":{"test":"datum.value==100||datum.value==1000||datum.value==10000","value":-6},"value":-3},"labels":false,"title":null}},"y":{"field":"r","type":"quantitative","axis":{"orient":"left","values":[-1,-0.75,-0.5,-0.25,0,0.25,0.5,0.75,1],"tickSize":{"condition":{"test":"abs(datum.value)==1||abs(datum.value)==0.5||datum.value==0","value":-6},"value":-3},"labels":false,"title":null}}}},
{"mark":{"type":"point","filled":true,"fill":"#3ec3c0","stroke":"#0d3b3b","strokeWidth":0.6,"size":13,"opacity":1},"encoding":{"x":{"field":"s","type":"quantitative","axis":null},"y":{"field":"r","type":"quantitative","axis":null}}},
{"data":{"values":[{"q":-1,"a":"q","b":"= −1"}]},"mark":{"type":"text","font":"Liberation Serif","fontSize":13,"fontStyle":"italic","align":"left","baseline":"alphabetic","color":"black"},"encoding":{"x":{"datum":37.6,"type":"quantitative","axis":null},"y":{"datum":-0.71,"type":"quantitative","axis":null},"text":{"field":"a"}}},
{"data":{"values":[{"q":-1,"a":"q","b":"= −1"}]},"mark":{"type":"text","font":"Liberation Serif","fontSize":13,"align":"left","baseline":"alphabetic","color":"black","dx":10},"encoding":{"x":{"datum":37.6,"type":"quantitative","axis":null},"y":{"datum":-0.71,"type":"quantitative","axis":null},"text":{"field":"b"}}}
]},
{"width":128,"height":90.5,"transform":[{"filter":"datum.q==1"}],"layer":[
{"mark":{"type":"errorband","color":"#9a9aff","opacity":0.45},"encoding":{"x":{"field":"s","type":"quantitative","scale":{"type":"log","domain":[18,23000],"nice":false},"axis":null},"y":{"field":"m","type":"quantitative","scale":{"domain":[-1,1],"nice":false},"axis":null},"yError":{"field":"e"}}},
{"mark":{"type":"errorbar","color":"#8080ff","thickness":0.6,"ticks":{"size":2}},"encoding":{"x":{"field":"s","type":"quantitative","axis":null},"y":{"field":"m","type":"quantitative","axis":null},"yError":{"field":"e"}}},
{"mark":{"type":"line","color":"#2020ff","strokeWidth":1},"encoding":{"x":{"field":"s","type":"quantitative","axis":{"orient":"top","values":[20,30,40,50,60,70,80,90,100,200,300,400,500,600,700,800,900,1000,2000,3000,4000,5000,6000,7000,8000,9000,10000,20000],"tickSize":{"condition":{"test":"datum.value==100||datum.value==1000||datum.value==10000","value":-6},"value":-3},"labels":false,"title":null}},"y":{"field":"m","type":"quantitative","axis":{"orient":"right","values":[-1,-0.75,-0.5,-0.25,0,0.25,0.5,0.75,1],"tickSize":{"condition":{"test":"abs(datum.value)==1||abs(datum.value)==0.5||datum.value==0","value":-6},"value":-3},"labels":false,"title":null}}}},
{"mark":{"type":"line","color":"black","strokeWidth":1},"encoding":{"x":{"field":"s","type":"quantitative","axis":{"orient":"bottom","values":[20,30,40,50,60,70,80,90,100,200,300,400,500,600,700,800,900,1000,2000,3000,4000,5000,6000,7000,8000,9000,10000,20000],"tickSize":{"condition":{"test":"datum.value==100||datum.value==1000||datum.value==10000","value":-6},"value":-3},"labels":false,"title":null}},"y":{"field":"r","type":"quantitative","axis":{"orient":"left","values":[-1,-0.75,-0.5,-0.25,0,0.25,0.5,0.75,1],"tickSize":{"condition":{"test":"abs(datum.value)==1||abs(datum.value)==0.5||datum.value==0","value":-6},"value":-3},"labelExpr":"datum.value==1?'1':datum.value==0.5?'0.5':datum.value==0?'0':datum.value==-0.5?'−0.5':''","labelOverlap":false,"labelPadding":9,"title":null}}}},
{"data":{"values":[{"q":1,"a":"q","b":"= 1"}]},"mark":{"type":"text","font":"Liberation Serif","fontSize":13,"fontStyle":"italic","align":"left","baseline":"alphabetic","color":"black"},"encoding":{"x":{"datum":39.6,"type":"quantitative","axis":null},"y":{"datum":-0.75,"type":"quantitative","axis":null},"text":{"field":"a"}}},
{"data":{"values":[{"q":1,"a":"q","b":"= 1"}]},"mark":{"type":"text","font":"Liberation Serif","fontSize":13,"align":"left","baseline":"alphabetic","color":"black","dx":10},"encoding":{"x":{"datum":39.6,"type":"quantitative","axis":null},"y":{"datum":-0.75,"type":"quantitative","axis":null},"text":{"field":"b"}}}
]},
{"width":128,"height":90.5,"transform":[{"filter":"datum.q==2"}],"layer":[
{"mark":{"type":"errorband","color":"#9a9aff","opacity":0.45},"encoding":{"x":{"field":"s","type":"quantitative","scale":{"type":"log","domain":[18,23000],"nice":false},"axis":null},"y":{"field":"m","type":"quantitative","scale":{"domain":[-1,1],"nice":false},"axis":null},"yError":{"field":"e"}}},
{"mark":{"type":"errorbar","color":"#8080ff","thickness":0.6,"ticks":{"size":2}},"encoding":{"x":{"field":"s","type":"quantitative","axis":null},"y":{"field":"m","type":"quantitative","axis":null},"yError":{"field":"e"}}},
{"mark":{"type":"line","color":"#2020ff","strokeWidth":1},"encoding":{"x":{"field":"s","type":"quantitative","axis":{"orient":"top","values":[20,30,40,50,60,70,80,90,100,200,300,400,500,600,700,800,900,1000,2000,3000,4000,5000,6000,7000,8000,9000,10000,20000],"tickSize":{"condition":{"test":"datum.value==100||datum.value==1000||datum.value==10000","value":-6},"value":-3},"labels":false,"title":null}},"y":{"field":"m","type":"quantitative","axis":{"orient":"right","values":[-1,-0.75,-0.5,-0.25,0,0.25,0.5,0.75,1],"tickSize":{"condition":{"test":"abs(datum.value)==1||abs(datum.value)==0.5||datum.value==0","value":-6},"value":-3},"labels":false,"title":null}}}},
{"mark":{"type":"line","color":"black","strokeWidth":1},"encoding":{"x":{"field":"s","type":"quantitative","axis":{"orient":"bottom","values":[20,30,40,50,60,70,80,90,100,200,300,400,500,600,700,800,900,1000,2000,3000,4000,5000,6000,7000,8000,9000,10000,20000],"tickSize":{"condition":{"test":"datum.value==100||datum.value==1000||datum.value==10000","value":-6},"value":-3},"labels":false,"title":null}},"y":{"field":"r","type":"quantitative","axis":{"orient":"left","values":[-1,-0.75,-0.5,-0.25,0,0.25,0.5,0.75,1],"tickSize":{"condition":{"test":"abs(datum.value)==1||abs(datum.value)==0.5||datum.value==0","value":-6},"value":-3},"labels":false,"title":null}}}},
{"data":{"values":[{"q":2,"a":"q","b":"= 2"}]},"mark":{"type":"text","font":"Liberation Serif","fontSize":13,"fontStyle":"italic","align":"left","baseline":"alphabetic","color":"black"},"encoding":{"x":{"datum":38.5,"type":"quantitative","axis":null},"y":{"datum":-0.73,"type":"quantitative","axis":null},"text":{"field":"a"}}},
{"data":{"values":[{"q":2,"a":"q","b":"= 2"}]},"mark":{"type":"text","font":"Liberation Serif","fontSize":13,"align":"left","baseline":"alphabetic","color":"black","dx":10},"encoding":{"x":{"datum":38.5,"type":"quantitative","axis":null},"y":{"datum":-0.73,"type":"quantitative","axis":null},"text":{"field":"b"}}}
]},
{"width":128,"height":90.5,"transform":[{"filter":"datum.q==3"}],"layer":[
{"mark":{"type":"errorband","color":"#9a9aff","opacity":0.45},"encoding":{"x":{"field":"s","type":"quantitative","scale":{"type":"log","domain":[18,23000],"nice":false},"axis":null},"y":{"field":"m","type":"quantitative","scale":{"domain":[-1,1],"nice":false},"axis":null},"yError":{"field":"e"}}},
{"mark":{"type":"errorbar","color":"#8080ff","thickness":0.6,"ticks":{"size":2}},"encoding":{"x":{"field":"s","type":"quantitative","axis":null},"y":{"field":"m","type":"quantitative","axis":null},"yError":{"field":"e"}}},
{"mark":{"type":"line","color":"#2020ff","strokeWidth":1},"encoding":{"x":{"field":"s","type":"quantitative","axis":{"orient":"top","values":[20,30,40,50,60,70,80,90,100,200,300,400,500,600,700,800,900,1000,2000,3000,4000,5000,6000,7000,8000,9000,10000,20000],"tickSize":{"condition":{"test":"datum.value==100||datum.value==1000||datum.value==10000","value":-6},"value":-3},"labels":false,"title":null}},"y":{"field":"m","type":"quantitative","axis":{"orient":"right","values":[-1,-0.75,-0.5,-0.25,0,0.25,0.5,0.75,1],"tickSize":{"condition":{"test":"abs(datum.value)==1||abs(datum.value)==0.5||datum.value==0","value":-6},"value":-3},"labels":false,"title":null}}}},
{"mark":{"type":"line","color":"black","strokeWidth":1},"encoding":{"x":{"field":"s","type":"quantitative","axis":{"orient":"bottom","values":[20,30,40,50,60,70,80,90,100,200,300,400,500,600,700,800,900,1000,2000,3000,4000,5000,6000,7000,8000,9000,10000,20000],"tickSize":{"condition":{"test":"datum.value==100||datum.value==1000||datum.value==10000","value":-6},"value":-3},"labelExpr":"datum.value==100?'10²':datum.value==1000?'10³':datum.value==10000?'10⁴':''","labelOverlap":false,"labelPadding":7,"labelFontSize":12,"title":"s","titleFontStyle":"italic","titleFontSize":15,"titlePadding":-3}},"y":{"field":"r","type":"quantitative","axis":{"orient":"left","values":[-1,-0.75,-0.5,-0.25,0,0.25,0.5,0.75,1],"tickSize":{"condition":{"test":"abs(datum.value)==1||abs(datum.value)==0.5||datum.value==0","value":-6},"value":-3},"labelExpr":"datum.value==1?'1':datum.value==0.5?'0.5':datum.value==0?'0':datum.value==-0.5?'−0.5':datum.value==-1?'−1':''","labelOverlap":false,"labelPadding":9,"title":null}}}},
{"data":{"values":[{"q":3,"a":"q","b":"= 3"}]},"mark":{"type":"text","font":"Liberation Serif","fontSize":13,"fontStyle":"italic","align":"left","baseline":"alphabetic","color":"black"},"encoding":{"x":{"datum":39.6,"type":"quantitative","axis":null},"y":{"datum":-0.93,"type":"quantitative","axis":null},"text":{"field":"a"}}},
{"data":{"values":[{"q":3,"a":"q","b":"= 3"}]},"mark":{"type":"text","font":"Liberation Serif","fontSize":13,"align":"left","baseline":"alphabetic","color":"black","dx":10},"encoding":{"x":{"datum":39.6,"type":"quantitative","axis":null},"y":{"datum":-0.93,"type":"quantitative","axis":null},"text":{"field":"b"}}}
]},
{"width":128,"height":90.5,"transform":[{"filter":"datum.q==4"}],"layer":[
{"mark":{"type":"errorband","color":"#9a9aff","opacity":0.45},"encoding":{"x":{"field":"s","type":"quantitative","scale":{"type":"log","domain":[18,23000],"nice":false},"axis":null},"y":{"field":"m","type":"quantitative","scale":{"domain":[-1,1],"nice":false},"axis":null},"yError":{"field":"e"}}},
{"mark":{"type":"errorbar","color":"#8080ff","thickness":0.6,"ticks":{"size":2}},"encoding":{"x":{"field":"s","type":"quantitative","axis":null},"y":{"field":"m","type":"quantitative","axis":null},"yError":{"field":"e"}}},
{"mark":{"type":"line","color":"#2020ff","strokeWidth":1},"encoding":{"x":{"field":"s","type":"quantitative","axis":{"orient":"top","values":[20,30,40,50,60,70,80,90,100,200,300,400,500,600,700,800,900,1000,2000,3000,4000,5000,6000,7000,8000,9000,10000,20000],"tickSize":{"condition":{"test":"datum.value==100||datum.value==1000||datum.value==10000","value":-6},"value":-3},"labels":false,"title":null}},"y":{"field":"m","type":"quantitative","axis":{"orient":"right","values":[-1,-0.75,-0.5,-0.25,0,0.25,0.5,0.75,1],"tickSize":{"condition":{"test":"abs(datum.value)==1||abs(datum.value)==0.5||datum.value==0","value":-6},"value":-3},"labels":false,"title":null}}}},
{"mark":{"type":"line","color":"black","strokeWidth":1},"encoding":{"x":{"field":"s","type":"quantitative","axis":{"orient":"bottom","values":[20,30,40,50,60,70,80,90,100,200,300,400,500,600,700,800,900,1000,2000,3000,4000,5000,6000,7000,8000,9000,10000,20000],"tickSize":{"condition":{"test":"datum.value==100||datum.value==1000||datum.value==10000","value":-6},"value":-3},"labelExpr":"datum.value==100?'10²':datum.value==1000?'10³':datum.value==10000?'10⁴':''","labelOverlap":false,"labelPadding":7,"labelFontSize":12,"title":"s","titleFontStyle":"italic","titleFontSize":15,"titlePadding":-3}},"y":{"field":"r","type":"quantitative","axis":{"orient":"left","values":[-1,-0.75,-0.5,-0.25,0,0.25,0.5,0.75,1],"tickSize":{"condition":{"test":"abs(datum.value)==1||abs(datum.value)==0.5||datum.value==0","value":-6},"value":-3},"labels":false,"title":null}}}},
{"data":{"values":[{"q":4,"a":"q","b":"= 4"}]},"mark":{"type":"text","font":"Liberation Serif","fontSize":13,"fontStyle":"italic","align":"left","baseline":"alphabetic","color":"black"},"encoding":{"x":{"datum":36,"type":"quantitative","axis":null},"y":{"datum":-0.79,"type":"quantitative","axis":null},"text":{"field":"a"}}},
{"data":{"values":[{"q":4,"a":"q","b":"= 4"}]},"mark":{"type":"text","font":"Liberation Serif","fontSize":13,"align":"left","baseline":"alphabetic","color":"black","dx":10},"encoding":{"x":{"datum":36,"type":"quantitative","axis":null},"y":{"datum":-0.79,"type":"quantitative","axis":null},"text":{"field":"b"}}}
]}
],
"config":{"view":{"stroke":"#333","strokeWidth":1},"axis":{"domain":false,"grid":false,"tickColor":"#333","tickWidth":1,"labelFont":"Liberation Serif","labelFontSize":13,"labelColor":"black","titleFont":"Liberation Serif","titleFontWeight":"normal","titleColor":"black"}}
}
